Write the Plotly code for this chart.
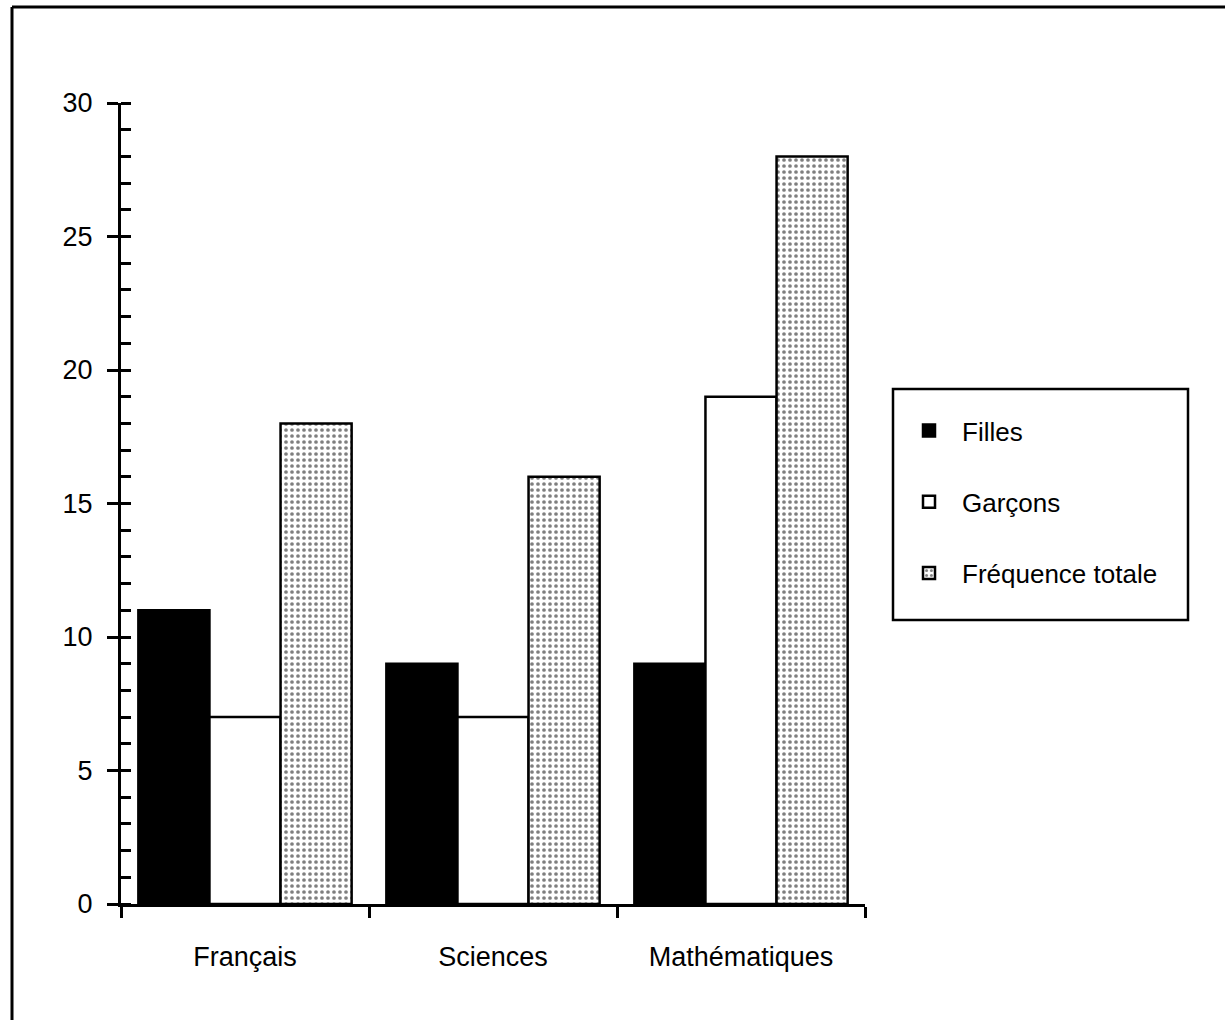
import plotly.graph_objects as go

# Survey counts per subject
categories = ["Français", "Sciences", "Mathématiques"]
filles = [11, 9, 9]
garcons = [7, 7, 19]
frequence_totale = [18, 16, 28]
y_tick_values = [0, 5, 10, 15, 20, 25, 30]
y_tick_labels = ["0", "5", "10", "15", "20", "25", "30"]

FONT = "Liberation Sans, Arial, Helvetica, sans-serif"
BLACK = "#000000"

# Pixel geometry of the plotting area
PLOT_L, PLOT_R, PLOT_T, PLOT_B = 121, 865, 103, 904
PW, PH = PLOT_R - PLOT_L, PLOT_B - PLOT_T


def px_x(px):
    return (px - PLOT_L) / PW


def px_y(py):
    return (PLOT_B - py) / PH


fig = go.Figure()

fig.add_trace(go.Bar(
    name="Filles", x=categories, y=filles, legendgroup="f",
    marker=dict(color=BLACK, line=dict(color=BLACK, width=2.5)),
))
fig.add_trace(go.Bar(
    name="Garçons", x=categories, y=garcons, legendgroup="g",
    marker=dict(color="white", line=dict(color=BLACK, width=2.5)),
))
fig.add_trace(go.Bar(
    name="Fréquence totale", x=categories, y=frequence_totale, legendgroup="t",
    marker=dict(
        color="white",
        line=dict(color=BLACK, width=2.5),
        pattern=dict(shape=".", fgcolor=BLACK, bgcolor="white",
                     size=6, solidity=0.3, fillmode="overlay"),
    ),
))

# Outer frame of the figure (left and top edges)
fig.add_shape(type="line", xref="paper", yref="paper",
              x0=px_x(12), x1=px_x(12), y0=px_y(7), y1=-0.2,
              line=dict(color=BLACK, width=3))
fig.add_shape(type="line", xref="paper", yref="paper",
              x0=px_x(12), x1=1.6, y0=px_y(7), y1=px_y(7),
              line=dict(color=BLACK, width=3))

# Box around the legend
fig.add_shape(type="rect", xref="paper", yref="paper",
              x0=px_x(893), x1=px_x(1188), y0=px_y(620), y1=px_y(389),
              line=dict(color=BLACK, width=2.5), fillcolor="rgba(0,0,0,0)")

fig.update_layout(
    width=1225, height=1020,
    margin=dict(l=PLOT_L, r=1225 - PLOT_R, t=PLOT_T, b=1020 - PLOT_B),
    paper_bgcolor="white", plot_bgcolor="white",
    barmode="group", bargap=0.14, bargroupgap=0,
    font=dict(family=FONT, size=26, color=BLACK),
    showlegend=True,
    legend=dict(
        x=px_x(896), y=px_y(407),
        xanchor="left", yanchor="top",
        borderwidth=0, bgcolor="rgba(0,0,0,0)",
        font=dict(family=FONT, size=26, color=BLACK),
        tracegroupgap=34.5, itemwidth=56,
        traceorder="grouped",
    ),
    xaxis=dict(
        type="category", tickson="boundaries",
        showline=True, linecolor=BLACK, linewidth=3,
        ticks="outside", ticklen=11, tickwidth=3, tickcolor=BLACK,
        showgrid=False, zeroline=False,
        tickfont=dict(family=FONT, size=27, color=BLACK),
        ticklabelstandoff=27,
        range=[-0.5, 2.5],
    ),
    xaxis2=dict(
        overlaying="x", anchor="y", side="bottom",
        range=[-0.5, 2.5], tickvals=[-0.5, 0.5, 1.5, 2.5],
        ticks="inside", ticklen=9, tickwidth=3, tickcolor=BLACK,
        showticklabels=False, showline=False, showgrid=False, zeroline=False,
    ),
    yaxis=dict(
        range=[0, 30], tickvals=y_tick_values, ticktext=y_tick_labels,
        showline=True, linecolor=BLACK, linewidth=3,
        ticks="outside", ticklen=11, tickwidth=3, tickcolor=BLACK,
        minor=dict(dtick=1, ticks="inside", ticklen=10, tickwidth=2.5, tickcolor=BLACK),
        showgrid=False, zeroline=False,
        tickfont=dict(family=FONT, size=27, color=BLACK),
        ticklabelstandoff=9,
    ),
    yaxis2=dict(
        overlaying="y", anchor="x", side="left",
        range=[0, 30], tickvals=y_tick_values,
        ticks="inside", ticklen=12, tickwidth=3, tickcolor=BLACK,
        showticklabels=False, showline=False, showgrid=False, zeroline=False,
    ),
)

fig.write_html("out.html")
